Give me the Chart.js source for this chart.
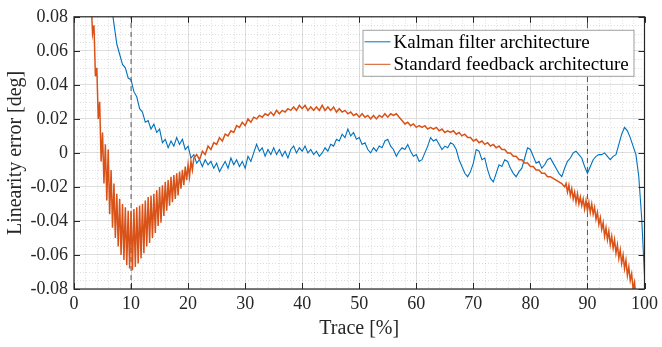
<!DOCTYPE html>
<html><head><meta charset="utf-8">
<script src="https://cdn.jsdelivr.net/npm/chart.js@4/dist/chart.umd.min.js"></script>
<style>html,body{margin:0;padding:0;background:#fff}</style>
</head><body>
<canvas id="c" width="662" height="347"></canvas>
<script>
const xTicks = [0,10,20,30,40,50,60,70,80,90,100];
const yTicks = [-0.08,-0.06,-0.04,-0.02,0,0.02,0.04,0.06,0.08];
const markerX = [10, 90];
const seriesNames = ['Kalman filter architecture','Standard feedback architecture'];

const kalmanX = [
6.5,7,7.5,8,8.5,9,9.5,10,10.5,11,
11.5,12,12.5,13,13.5,14,14.5,15,15.5,16,
16.5,17,17.5,18,18.5,19,19.5,20,20.5,21,
21.5,22,22.5,23,23.5,24,24.5,25,25.5,26,
26.5,27,27.5,28,28.5,29,29.5,30,30.5,31,
31.5,32,32.5,33,33.5,34,34.5,35,35.5,36,
36.5,37,37.5,38,38.5,39,39.5,40,40.5,41,
41.5,42,42.5,43,43.5,44,44.5,45,45.5,46,
46.5,47,47.5,48,48.5,49,49.5,50,50.5,51,
51.5,52,52.5,53,53.5,54,54.5,55,55.5,56,
56.5,57,57.5,58,58.5,59,59.5,60,60.5,61,
61.5,62,62.5,63,63.5,64,64.5,65,65.5,66,
66.5,67,67.5,68,68.5,69,69.5,70,70.5,71,
71.5,72,72.5,73,73.5,74,74.5,75,75.5,76,
76.5,77,77.5,78,78.5,79,79.5,80,80.5,81,
81.5,82,82.5,83,83.5,84,84.5,85,85.5,86,
86.5,87,87.5,88,88.5,89,89.5,90,90.5,91,
91.5,92,92.5,93,93.5,94,94.5,95,95.5,96,
96.5,97,97.5,98,98.5,99,99.5,100];
const kalmanY = [
0.088,0.076,0.064,0.058,0.052,0.050,0.044,0.043,0.036,0.033,
0.026,0.024,0.018,0.019,0.014,0.017,0.012,0.014,0.006,0.008,
0.003,0.007,0.004,0.009,0.005,0.008,0.002,0.004,-0.003,-0.001,
-0.006,-0.004,-0.008,-0.004,-0.007,-0.005,-0.009,-0.006,-0.011,-0.008,
-0.005,-0.009,-0.003,-0.007,-0.004,-0.008,-0.005,-0.009,-0.002,-0.005,
0.000,0.005,0.001,0.003,-0.002,0.002,-0.001,0.003,-0.001,0.002,
-0.002,0.001,-0.003,0.002,0.004,0.000,0.003,0.001,0.004,0.000,
0.002,-0.001,0.001,-0.002,0.000,0.003,0.001,0.005,0.004,0.008,
0.007,0.011,0.009,0.014,0.010,0.012,0.008,0.009,0.005,0.006,
0.002,0.000,0.003,0.001,0.004,0.003,0.007,0.008,0.004,0.002,
-0.002,0.001,0.003,0.002,0.005,0.001,-0.002,-0.001,-0.005,-0.004,
0.000,0.004,0.009,0.007,0.008,0.005,0.002,0.004,0.003,0.006,
0.005,0.002,-0.004,-0.008,-0.012,-0.014,-0.011,-0.006,0.002,0.001,
-0.004,-0.003,-0.010,-0.015,-0.017,-0.012,-0.007,-0.008,-0.004,-0.005,
-0.009,-0.012,-0.014,-0.011,-0.009,-0.003,0.003,0.002,-0.002,-0.006,
-0.005,-0.009,-0.007,-0.004,-0.003,-0.006,-0.009,-0.012,-0.014,-0.009,
-0.005,-0.003,0.000,0.001,-0.001,-0.003,-0.008,-0.012,-0.008,-0.004,
-0.002,-0.001,-0.001,0.000,-0.002,-0.004,-0.002,-0.001,0.005,0.011,
0.015,0.013,0.009,0.004,-0.001,-0.014,-0.038,-0.072];

const standardX = [
2.5,2.75,3,3.25,3.5,3.75,4,4.25,4.5,4.75,
5,5.25,5.5,5.75,6,6.25,6.5,6.75,7,7.25,
7.5,7.75,8,8.25,8.5,8.75,9,9.25,9.5,9.75,
10,10.25,10.5,10.75,11,11.25,11.5,11.75,12,12.25,
12.5,12.75,13,13.25,13.5,13.75,14,14.25,14.5,14.75,
15,15.25,15.5,15.75,16,16.25,16.5,16.75,17,17.25,
17.5,17.75,18,18.25,18.5,18.75,19,19.25,19.5,19.75,
20,20.25,20.5,20.75,21,
21.5,22,22.5,23,23.5,24,24.5,25,25.5,26,
26.5,27,27.5,28,28.5,29,29.5,30,30.5,31,
31.5,32,32.5,33,33.5,34,34.5,35,35.5,36,
36.5,37,37.5,38,38.5,39,39.5,40,40.5,41,
41.5,42,42.5,43,43.5,44,44.5,45,45.5,46,
46.5,47,47.5,48,48.5,49,49.5,50,50.5,51,
51.5,52,52.5,53,53.5,54,54.5,55,55.5,56,
56.5,57,57.5,58,58.5,59,59.5,60,60.5,61,
61.5,62,62.5,63,63.5,64,64.5,65,65.5,66,
66.5,67,67.5,68,68.5,69,69.5,70,70.5,71,
71.5,72,72.5,73,73.5,74,74.5,75,75.5,76,
76.5,77,77.5,78,78.5,79,79.5,80,80.5,81,
81.5,82,82.5,83,83.5,84,84.5,85,85.5,86,
86.25,86.5,86.75,87,87.25,87.5,87.75,88,
88.25,88.5,88.75,89,89.25,89.5,89.75,90,
90.25,90.5,90.75,91,91.25,91.5,91.75,92,
92.25,92.5,92.75,93,93.25,93.5,93.75,94,
94.25,94.5,94.75,95,95.25,95.5,95.75,96,
96.25,96.5,96.75,97,97.25,97.5,97.75,98,
98.25,98.5];
const standardY = [
0.100,0.092,0.090,0.070,0.075,0.045,0.050,0.020,0.030,-0.005,
0.012,-0.018,0.005,-0.028,0.002,-0.036,-0.010,-0.044,-0.018,-0.050,
-0.024,-0.055,-0.027,-0.060,-0.030,-0.063,-0.032,-0.066,-0.034,-0.068,
-0.034,-0.069,-0.033,-0.067,-0.032,-0.065,-0.031,-0.062,-0.030,-0.059,
-0.028,-0.055,-0.026,-0.053,-0.025,-0.050,-0.024,-0.047,-0.022,-0.043,
-0.020,-0.041,-0.019,-0.037,-0.017,-0.034,-0.016,-0.031,-0.014,-0.029,
-0.013,-0.027,-0.012,-0.025,-0.011,-0.021,-0.010,-0.019,-0.008,-0.016,
-0.007,-0.014,-0.005,-0.010,-0.003,
-0.001,-0.004,0.001,-0.001,0.004,0.002,0.006,0.005,0.009,0.007,
0.011,0.010,0.013,0.012,0.016,0.015,0.018,0.016,0.020,0.018,
0.021,0.020,0.022,0.021,0.023,0.022,0.024,0.022,0.025,0.023,
0.025,0.024,0.026,0.025,0.027,0.025,0.028,0.026,0.028,0.025,
0.027,0.025,0.027,0.025,0.028,0.025,0.027,0.025,0.027,0.024,
0.026,0.024,0.025,0.023,0.024,0.022,0.023,0.021,0.023,0.021,
0.022,0.020,0.022,0.020,0.022,0.021,0.023,0.021,0.023,0.022,
0.023,0.021,0.019,0.017,0.018,0.016,0.017,0.015,0.016,0.015,
0.016,0.014,0.015,0.014,0.015,0.013,0.014,0.012,0.013,0.012,
0.013,0.011,0.012,0.010,0.011,0.009,0.009,0.007,0.008,0.006,
0.007,0.005,0.006,0.004,0.005,0.003,0.004,0.002,0.002,0.000,
0.000,-0.002,-0.002,-0.004,-0.004,-0.006,-0.006,-0.008,-0.008,-0.010,
-0.010,-0.012,-0.012,-0.014,-0.014,-0.015,-0.016,-0.017,-0.018,-0.020,
-0.018,-0.023,-0.019,-0.025,-0.021,-0.027,-0.023,-0.029,
-0.024,-0.030,-0.026,-0.031,-0.027,-0.033,-0.028,-0.034,
-0.029,-0.035,-0.030,-0.036,-0.032,-0.039,-0.035,-0.042,
-0.038,-0.045,-0.041,-0.049,-0.044,-0.051,-0.046,-0.054,
-0.049,-0.056,-0.051,-0.059,-0.054,-0.062,-0.057,-0.065,
-0.060,-0.068,-0.063,-0.072,-0.067,-0.075,-0.071,-0.080,
-0.076,-0.085];

const BLUE = '#0072BD', ORANGE = '#D95319', AXIS = '#262626';
const FONT = 'Liberation Serif';
const pairs = (xs, ys) => xs.map((x, i) => ({x, y: ys[i]}));

const datasets = [
  {label: seriesNames[1], data: pairs(standardX, standardY), borderColor: ORANGE, borderWidth: 1.5, order: 0},
  {label: seriesNames[0], data: pairs(kalmanX, kalmanY), borderColor: BLUE, borderWidth: 1.1, order: 1}
];
markerX.forEach(m => datasets.push({label: 'marker', data: [{x: m, y: yTicks[0]}, {x: m, y: yTicks[yTicks.length-1]}],
  borderColor: '#555555', borderWidth: 1, borderDash: [5, 4], order: 2}));

const frame = {
  id: 'frame',
  beforeDatasetsDraw(chart) {
    const {ctx, chartArea: a, scales: {x, y}} = chart;
    ctx.save();
    ctx.strokeStyle = 'rgba(0,0,0,0.13)';
    ctx.lineWidth = 1;
    ctx.setLineDash([1, 2]);
    for (let v = 0; v <= 100; v += 2) {
      if (v % 10 === 0) continue;
      const px = Math.round(x.getPixelForValue(v)) + 0.5;
      ctx.beginPath(); ctx.moveTo(px, a.top); ctx.lineTo(px, a.bottom); ctx.stroke();
    }
    for (let k = -16; k <= 16; k++) {
      if (k % 4 === 0) continue;
      const py = Math.round(y.getPixelForValue(k * 0.005)) + 0.5;
      ctx.beginPath(); ctx.moveTo(a.left, py); ctx.lineTo(a.right, py); ctx.stroke();
    }
    ctx.restore();
  },
  afterDraw(chart) {
    const {ctx, chartArea: a, scales: {x, y}} = chart;
    ctx.save();
    ctx.strokeStyle = AXIS; ctx.lineWidth = 1.2; ctx.setLineDash([]);
    ctx.strokeRect(a.left, a.top, a.right - a.left, a.bottom - a.top);
    const L = 6;
    ctx.lineWidth = 1;
    xTicks.forEach(v => {
      const px = Math.round(x.getPixelForValue(v)) + 0.5;
      ctx.beginPath(); ctx.moveTo(px, a.bottom); ctx.lineTo(px, a.bottom - L);
      ctx.moveTo(px, a.top); ctx.lineTo(px, a.top + L); ctx.stroke();
    });
    yTicks.forEach(v => {
      const py = Math.round(y.getPixelForValue(v)) + 0.5;
      ctx.beginPath(); ctx.moveTo(a.left, py); ctx.lineTo(a.left + L, py);
      ctx.moveTo(a.right, py); ctx.lineTo(a.right - L, py); ctx.stroke();
    });
    // legend
    const bx = a.right - 282, by = a.top + 13, bw = 271, bh = 46;
    ctx.fillStyle = '#ffffff';
    ctx.fillRect(bx, by, bw, bh);
    ctx.strokeStyle = '#a0a0a0'; ctx.lineWidth = 1;
    ctx.strokeRect(bx + 0.5, by + 0.5, bw, bh);
    ctx.font = '19px "' + FONT + '"';
    ctx.textBaseline = 'middle'; ctx.textAlign = 'left';
    [[BLUE, seriesNames[0]], [ORANGE, seriesNames[1]]].forEach((it, i) => {
      const ly = by + 12 + i * 22.5;
      ctx.strokeStyle = it[0]; ctx.lineWidth = 1;
      ctx.beginPath(); ctx.moveTo(bx + 2, ly); ctx.lineTo(bx + 28, ly); ctx.stroke();
      ctx.fillStyle = '#000000';
      ctx.fillText(it[1], bx + 31, ly + 1);
    });
    ctx.restore();
  }
};

new Chart(document.getElementById('c'), {
  type: 'line',
  data: {datasets},
  options: {
    responsive: false, animation: false, devicePixelRatio: 1,
    layout: {padding: {left: 0, top: 12, right: 14, bottom: 0}},
    elements: {point: {radius: 0}, line: {tension: 0}},
    plugins: {legend: {display: false}, tooltip: {enabled: false}},
    scales: {
      x: {
        type: 'linear', min: 0, max: 100,
        afterBuildTicks: s => { s.ticks = xTicks.map(v => ({value: v})); },
        afterFit: s => { s.height = 58; },
        ticks: {font: {family: FONT, size: 18}, color: AXIS, padding: 4, maxRotation: 0, autoSkip: false},
        grid: {color: '#dedede', drawTicks: false},
        border: {display: false},
        title: {display: true, text: 'Trace [%]', font: {family: FONT, size: 20}, color: AXIS, padding: {top: 0, bottom: 6}}
      },
      y: {
        type: 'linear', min: -0.08, max: 0.08,
        afterBuildTicks: s => { s.ticks = yTicks.map(v => ({value: v})); },
        afterFit: s => { s.width = 74; },
        ticks: {font: {family: FONT, size: 18}, color: AXIS, padding: 6, autoSkip: false,
          callback: v => v === 0 ? '0' : v.toFixed(2)},
        grid: {color: '#dedede', drawTicks: false},
        border: {display: false},
        title: {display: true, text: 'Linearity error [deg]', font: {family: FONT, size: 20}, color: AXIS, padding: {top: 4, bottom: 0}}
      }
    }
  },
  plugins: [frame]
});
</script>
</body></html>
